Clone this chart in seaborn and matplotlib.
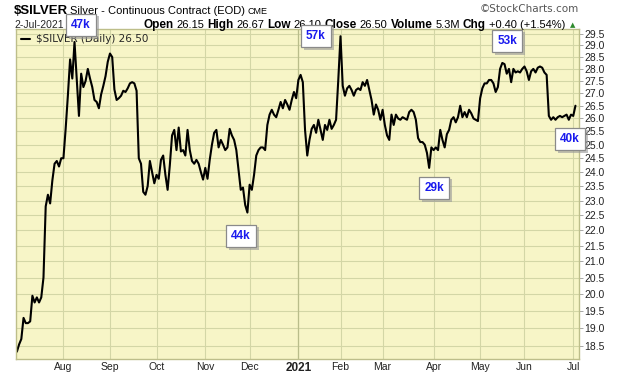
import numpy as np
import matplotlib
matplotlib.use("Agg")
import matplotlib.pyplot as plt
import matplotlib.patheffects as pe
import seaborn as sns
from matplotlib.ticker import FixedLocator, NullLocator, FuncFormatter

# daily closes, one list per month (Jul 2020 .. Jul 2021)
jul20 = [18.35, 18.55, 18.7, 19.3, 19.15, 19.15, 19.2, 19.95, 19.75, 19.9, 19.75,
         19.9, 20.5, 22.8, 23.2, 22.9, 23.7, 24.3, 24.4, 24.2, 24.5]
aug20 = [24.5, 25.6, 26.9, 28.4, 27.6, 29.15, 27.55, 26.1, 27.8, 27.25, 27.5,
         28.0, 27.6, 27.25, 26.73, 26.65, 26.4, 26.95, 27.3, 27.7, 28.3]
sep20 = [28.65, 28.5, 27.15, 26.73, 26.8, 26.9, 27.1, 27.05, 27.2, 27.4, 27.45,
         27.4, 27.1, 24.5, 24.3, 23.3, 23.2, 23.5, 24.4, 24.0, 23.6]
oct20 = [23.9, 23.76, 24.44, 24.6, 23.9, 23.37, 24.25, 25.35, 25.56, 24.8, 25.65,
         24.75, 24.8, 24.6, 25.56, 24.8, 24.4, 24.3, 24.44, 24.3, 24.0, 23.73]
nov20 = [24.15, 23.76, 24.44, 25.0, 25.45, 25.56, 24.9, 25.18, 25.0, 24.8, 24.9,
         25.6, 25.35, 25.18, 24.8, 24.08, 23.37, 23.45, 22.85, 22.59]
dec20 = [23.55, 23.37, 23.9, 24.6, 24.8, 24.9, 24.9, 24.8, 25.75, 26.15, 26.34,
         26.15, 26.05, 26.34, 26.65, 26.4, 26.73, 26.55, 26.34, 26.73, 27.05, 26.8]
jan21 = [27.54, 27.75, 27.45, 25.56, 24.6, 25.18, 25.6, 25.75, 25.45, 25.95, 25.56,
         25.18, 25.75, 25.56, 25.95, 25.6, 25.75, 25.95, 27.54]
feb21 = [29.4, 27.3, 26.9, 27.2, 27.3, 27.13, 26.9, 27.13, 27.2, 27.13, 27.45,
         27.3, 27.54, 27.13, 26.73, 26.15, 26.55, 26.34, 25.95]
mar21 = [26.34, 25.75, 25.35, 25.18, 26.15, 25.75, 26.15, 26.0, 25.95, 26.05, 26.0,
         25.95, 26.25, 26.34, 26.25, 25.95, 25.25, 25.1, 25.1, 25.0, 24.7, 24.15, 24.9]
apr21 = [24.8, 24.9, 24.8, 25.56, 25.18, 24.9, 25.4, 25.56, 25.95, 26.05, 25.85,
         26.05, 26.5, 26.05, 26.25, 26.05, 26.34, 26.2, 26.0, 25.95, 25.9]
may21 = [26.8, 27.2, 27.4, 27.4, 27.54, 27.54, 27.4, 27.05, 27.25, 28.0, 28.25,
         28.2, 27.8, 28.0, 27.45, 28.0, 27.85, 27.9, 27.85, 28.0]
jun21 = [28.1, 27.9, 27.54, 27.9, 28.0, 27.85, 28.05, 28.1, 28.05, 27.85, 27.75,
         26.1, 25.95, 26.05, 25.95, 26.05, 26.1, 26.05, 26.1, 26.15, 25.95, 26.15]
jul21 = [26.1, 26.5]

months = [jul20, aug20, sep20, oct20, nov20, dec20, jan21, feb21, mar21,
          apr21, may21, jun21, jul21]
month_labels = ['Aug', 'Sep', 'Oct', 'Nov', 'Dec', '2021', 'Feb', 'Mar',
                'Apr', 'May', 'Jun', 'Jul']
volume_labels = ['47k', '57k', '44k', '29k', '53k', '40k']

closes = np.concatenate(months)
day = np.arange(len(closes))
month_starts = np.cumsum([len(m) for m in months])[:-1]

W, H = 620, 376
sns.set_style('white')
plt.rcParams['font.family'] = ['Liberation Sans', 'DejaVu Sans']

fig = plt.figure(figsize=(W / 100, H / 100), dpi=100)
ax = fig.add_axes([16 / W, 1 - 359 / H, (579 - 16) / W, (359 - 29) / H])
ax.set_facecolor('#f7f5c7')

sns.lineplot(x=day, y=closes, ax=ax, color='black', linewidth=1.5,
             label=r'\$SILVER (Daily) 26.50')

ax.set_yscale('log')
ax.set_ylim(18.15, 29.72)
ax.set_xlim(-0.4, 253.6)
ax.yaxis.set_major_locator(FixedLocator(np.arange(18.5, 29.51, 0.5)))
ax.yaxis.set_minor_locator(NullLocator())
ax.yaxis.set_major_formatter(FuncFormatter(lambda v, p: f'{v:.1f}'))
ax.yaxis.tick_right()
ax.tick_params(axis='y', length=3, width=0.6, color='#999999', pad=1,
               labelsize=7.5, labelcolor='#222222')
ax.set_xticks(month_starts)
ax.set_xticklabels(month_labels)
ax.tick_params(axis='x', length=0, pad=2, labelsize=7.5, labelcolor='#222222')
for lab in ax.get_xticklabels():
    if lab.get_text() == '2021':
        lab.set_fontweight('bold')
        lab.set_fontsize(8.5)
ax.set_xlabel('')
ax.set_ylabel('')
ax.grid(True, color='#d3d6a6', linewidth=0.8)
ax.axvline(month_starts[5], color='#b9bd8a', linewidth=0.9, zorder=1)
for s in ax.spines.values():
    s.set_color('#bdbe8a')
    s.set_linewidth(1)

leg = ax.legend(loc='upper left', bbox_to_anchor=(0.0, 1.0), frameon=False,
                handlelength=0.8, handletextpad=0.6, borderaxespad=0.1,
                prop={'family': 'DejaVu Sans', 'size': 7.5})

# volume boxes
box_pos = [(81, 25), (316, 36), (241, 236), (434, 188), (507, 41), (570, 139)]
for txt, (px, py) in zip(volume_labels, box_pos):
    t = fig.text(px / W, 1 - py / H, txt, ha='center', va='center', color='#1a1aee',
                 fontsize=8.5, fontweight='bold', zorder=10,
                 bbox=dict(boxstyle='square,pad=0.45', fc='white', ec='#8a8a8a', lw=0.9))
    t.get_bbox_patch().set_path_effects([
        pe.SimplePatchShadow(offset=(2, -2), shadow_rgbFace='#999999', alpha=0.6),
        pe.Normal()])

# header
renderer = fig.canvas.get_renderer()


def chain(pieces, x, y, gap=3):
    for txt, weight, size in pieces:
        t = fig.text(x / W, 1 - y / H, txt, fontweight=weight, fontsize=size,
                     color='black', va='baseline')
        x = t.get_window_extent(renderer).x1 + gap
    return x


chain([(r'\$SILVER', 'bold', 9.5), ('Silver - Continuous Contract (EOD)', 'normal', 8),
       ('CME', 'normal', 6.5)], 14, 13.5, gap=2)
fig.text(14 / W, 1 - 28 / H, '2-Jul-2021', fontsize=7.5, va='baseline')
end = chain([('Open', 'bold', 8.5), ('26.15', 'normal', 8), ('High', 'bold', 8.5),
             ('26.67', 'normal', 8), ('Low', 'bold', 8.5), ('26.10', 'normal', 8),
             ('Close', 'bold', 8.5), ('26.50', 'normal', 8), ('Volume', 'bold', 8.5),
             ('5.3M', 'normal', 8), ('Chg', 'bold', 8.5), ('+0.40 (+1.54%)', 'normal', 8)],
            143, 28)
fig.text((end + 2) / W, 1 - 27 / H, '\u25b2', fontsize=5, color='#2e8b2e',
         va='baseline', family='DejaVu Sans')
fig.text(579 / W, 1 - 12 / H, '\u00a9StockCharts.com', fontsize=7.5, color='#555555',
         ha='right', va='baseline', family='DejaVu Sans')

fig.savefig('out.png', dpi=100)
